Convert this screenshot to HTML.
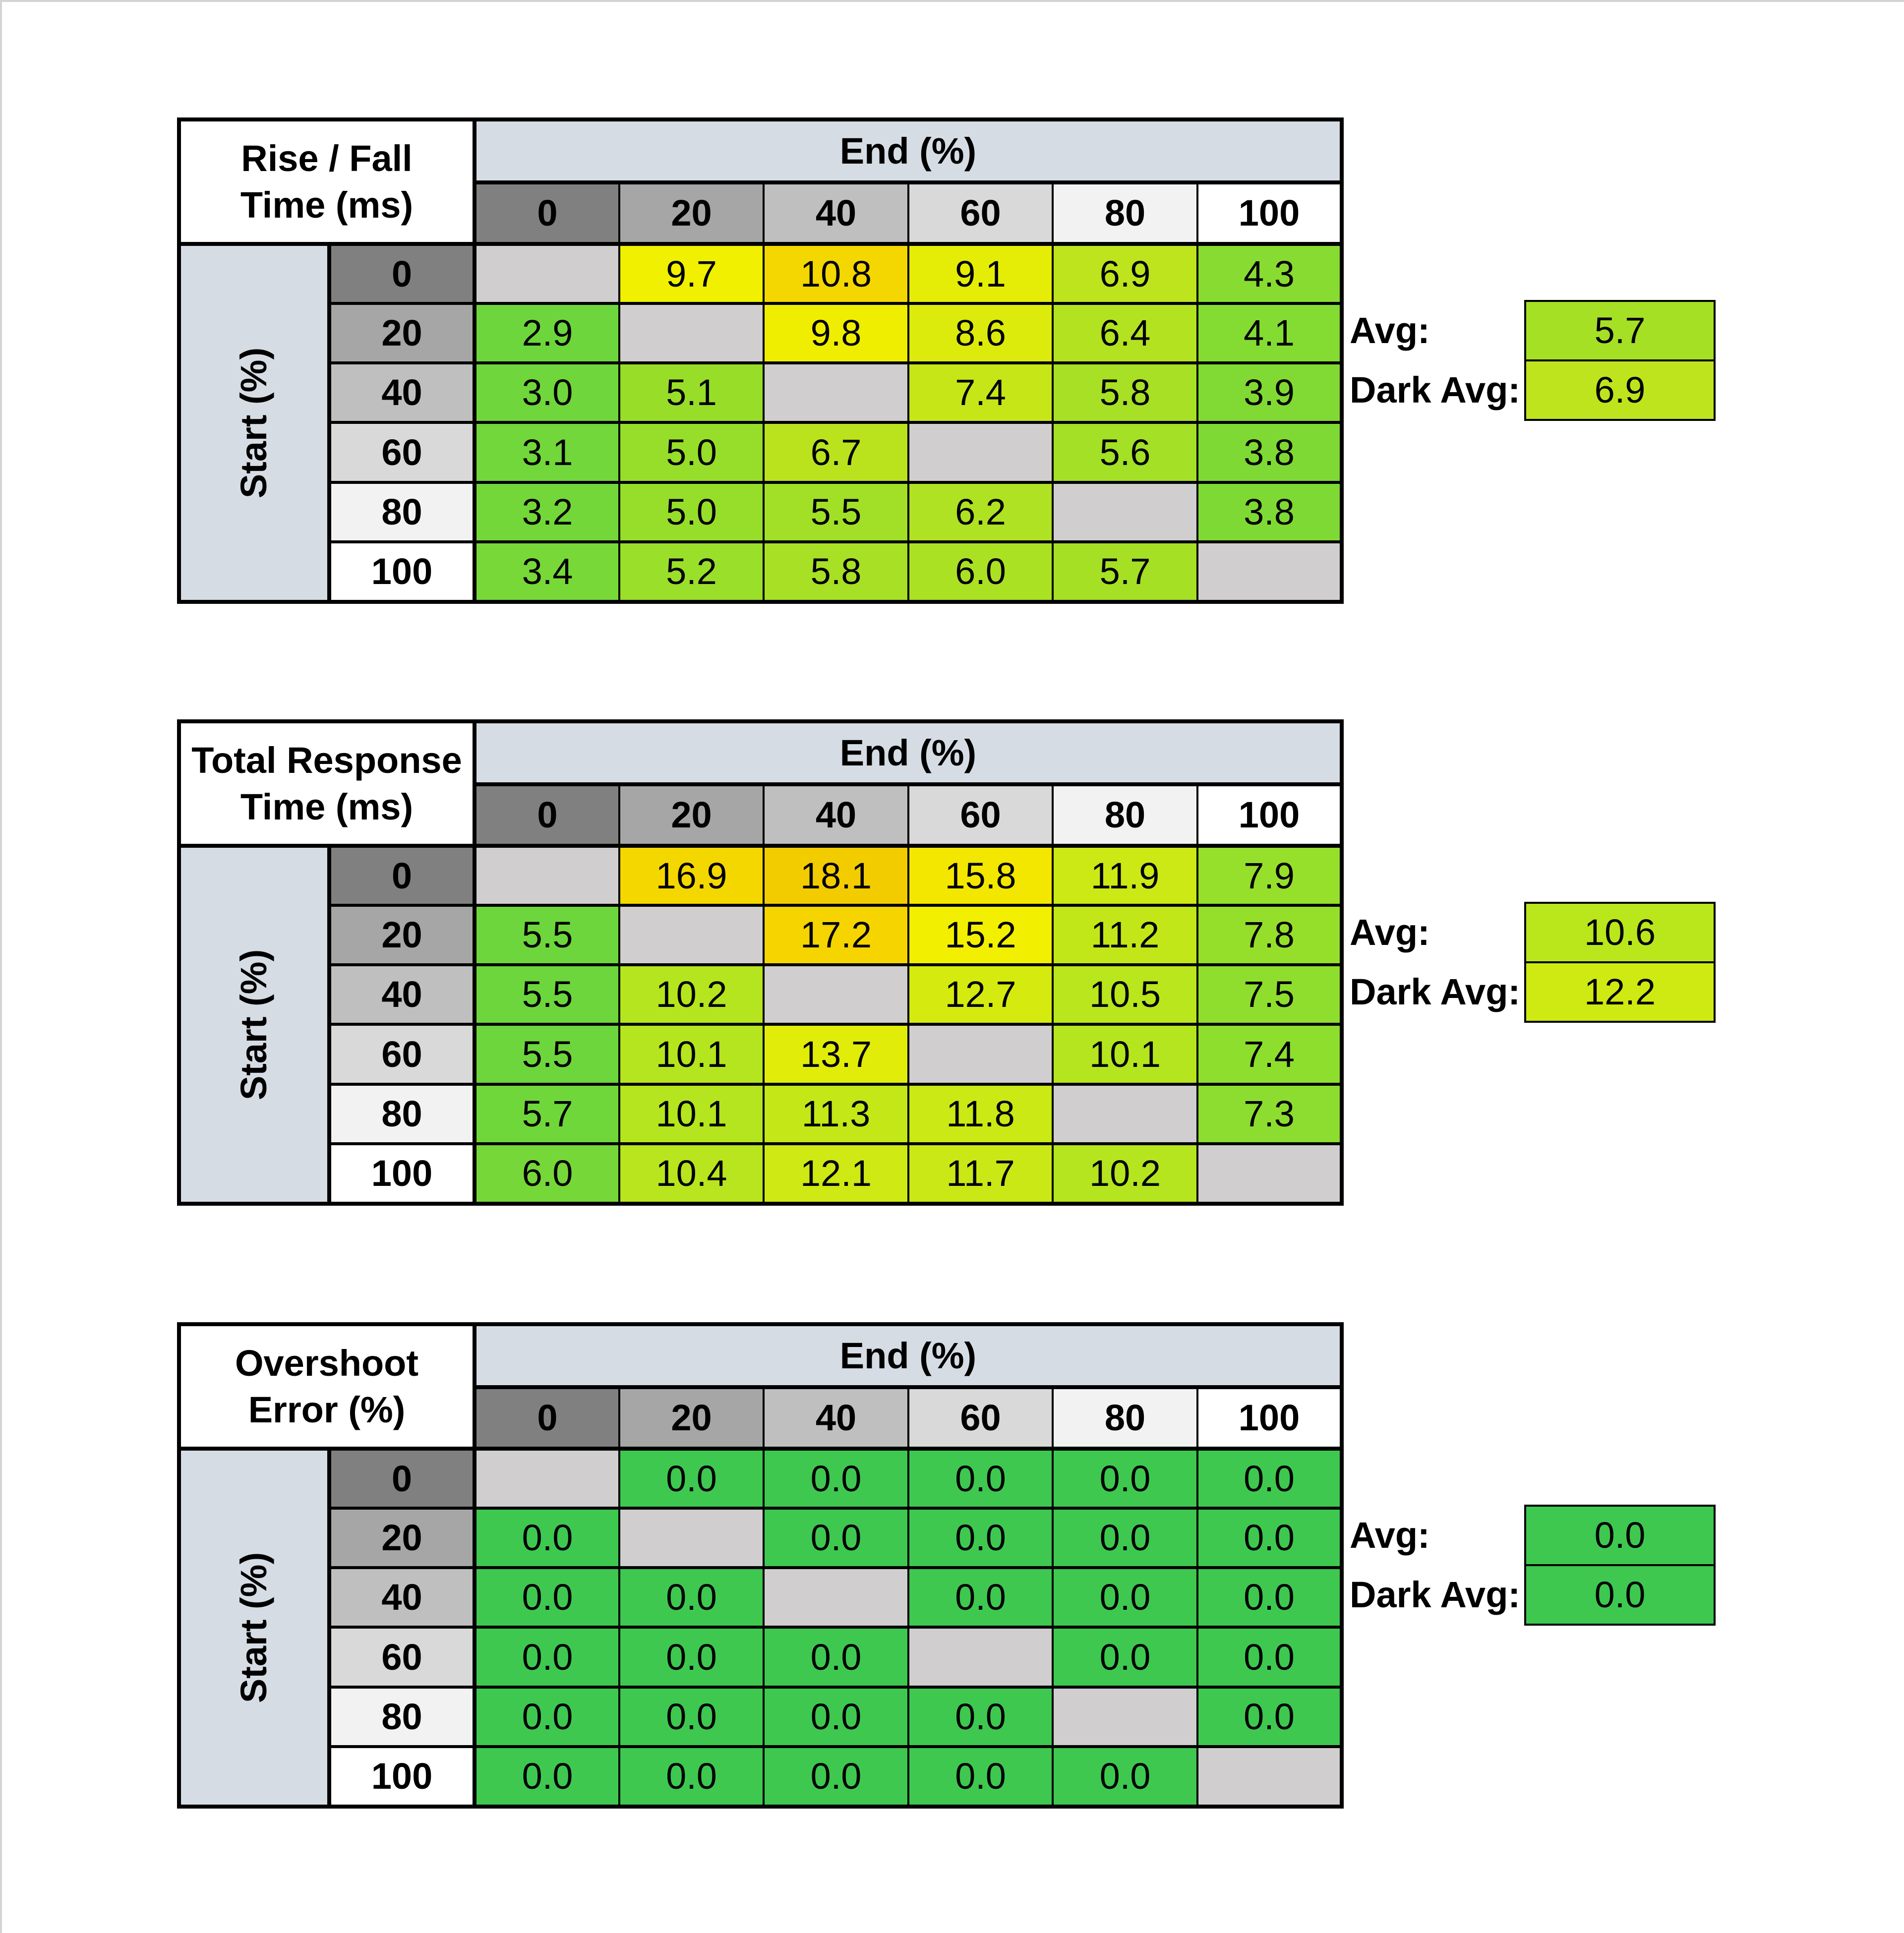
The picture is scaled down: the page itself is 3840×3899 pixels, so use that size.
<!DOCTYPE html>
<html><head><meta charset="utf-8">
<style>
html,body{margin:0;padding:0;}
body{width:3840px;height:3899px;background:#fff;position:relative;overflow:hidden;font-family:"Liberation Sans",Arial,sans-serif;color:#000;}
.c{position:absolute;display:flex;align-items:center;justify-content:center;font-size:74px;box-sizing:border-box;line-height:1;}
.b{font-weight:bold;}
.blk{position:absolute;background:#000;}
</style></head>
<body>
<div style="position:absolute;left:0;top:0;width:3840px;height:4px;background:#d4d4d4"></div>
<div style="position:absolute;left:0;top:0;width:4px;height:3899px;background:#d4d4d4"></div>
<script>
const levels = ["0","20","40","60","80","100"];
const titles = [["Rise / Fall","Time (ms)"],["Total Response","Time (ms)"],["Overshoot","Error (%)"]];
const riseFall = [
 [null,9.7,10.8,9.1,6.9,4.3],
 [2.9,null,9.8,8.6,6.4,4.1],
 [3.0,5.1,null,7.4,5.8,3.9],
 [3.1,5.0,6.7,null,5.6,3.8],
 [3.2,5.0,5.5,6.2,null,3.8],
 [3.4,5.2,5.8,6.0,5.7,null]];
const totalResp = [
 [null,16.9,18.1,15.8,11.9,7.9],
 [5.5,null,17.2,15.2,11.2,7.8],
 [5.5,10.2,null,12.7,10.5,7.5],
 [5.5,10.1,13.7,null,10.1,7.4],
 [5.7,10.1,11.3,11.8,null,7.3],
 [6.0,10.4,12.1,11.7,10.2,null]];
const overshoot = [
 [null,0,0,0,0,0],
 [0,null,0,0,0,0],
 [0,0,null,0,0,0],
 [0,0,0,null,0,0],
 [0,0,0,0,null,0],
 [0,0,0,0,0,null]];
const avgValues = [5.7,10.6,0.0];
const darkAvgValues = [6.9,12.2,0.0];

const scales = [
 [[2.9,[109,214,60]],[5.0,[150,222,42]],[7.0,[192,228,28]],[9.7,[240,240,0]],[11,[245,210,0]]],
 [[5.5,[109,214,60]],[8.0,[152,224,42]],[12.0,[205,233,20]],[15.2,[242,240,0]],[17,[245,214,0]],[18.5,[242,200,0]]],
 [[0,[62,200,80]],[1,[62,200,80]]]
];
function colorFor(t,v){
  const s=scales[t];
  if(v<=s[0][0]) return 'rgb('+s[0][1].join(',')+')';
  for(let i=1;i<s.length;i++){
    if(v<=s[i][0]){const a=s[i-1],b=s[i];const f=(v-a[0])/(b[0]-a[0]);
      return 'rgb('+a[1].map((x,k)=>Math.round(x+(b[1][k]-x)*f)).join(',')+')';}
  }
  return 'rgb('+s[s.length-1][1].join(',')+')';
}
const datasets=[riseFall,totalResp,overshoot];
const hdrBg=["#808080","#a6a6a6","#bfbfbf","#d9d9d9","#f2f2f2","#ffffff"];
const colX=[361,664,957,1249,1540,1832,2123,2415,2706];
const rowY=[241,368,492,612,732,852,973,1093,1214];
const offsets=[0,1214,2430];
const TH=8, TN=4;

function cell(x0,x1,y0,y1,bg,txt,bold,name){
  const d=document.createElement('div');
  d.className='c'+(bold?' b':'');
  d.style.left=x0+'px';d.style.top=y0+'px';
  d.style.width=(x1-x0)+'px';d.style.height=(y1-y0)+'px';
  d.style.background=bg;
  if(Array.isArray(txt)){d.style.flexDirection='column';d.innerHTML=txt.map(t=>'<div style="margin:10px 0">'+t+'</div>').join('');}
  else d.textContent=txt;
  
  
  document.body.appendChild(d);return d;
}
function lineThick(i){return (i===0||i===colX.length-1)?TH:TN;}
for(let t=0;t<3;t++){
  const oy=offsets[t];
  const Y=rowY.map(y=>y+oy);
  const bk=document.createElement('div');
  bk.className='blk';
  bk.style.left=(colX[0]-TH/2)+'px';bk.style.top=(Y[0]-TH/2)+'px';
  bk.style.width=(colX[8]-colX[0]+TH)+'px';bk.style.height=(Y[8]-Y[0]+TH)+'px';
  
  
  document.body.appendChild(bk);
  const vx=[TH,TH,TH,TN,TN,TN,TN,TN,TH];
  const hy=[TH,TH,TH,6,6,6,6,6,TH];
  const L=i=>colX[i]+vx[i]/2, R=i=>colX[i]-vx[i]/2;
  const T=i=>Y[i]+hy[i]/2, B=i=>Y[i]-hy[i]/2;
  cell(L(0),R(2),T(0),B(2),'#fff',titles[t],true,'table-title-'+(t+1));
  cell(L(2),R(8),T(0),B(1)-4+4,'#d6dce4','End (%)',true,'end-axis-title');
  const st=cell(L(0),R(1),T(2),B(8),'#d6dce4','',true,'start-axis-title');
  const sp=document.createElement('div');sp.textContent='Start (%)';
  sp.style.transform='rotate(-90deg)';sp.style.whiteSpace='nowrap';
  
  
  st.appendChild(sp);
  for(let j=0;j<6;j++){
    cell(L(j+2),R(j+3),T(1),B(2),hdrBg[j],levels[j],true,'end-header-'+levels[j]);
    cell(L(1),R(2),T(j+2),B(j+3),hdrBg[j],levels[j],true,'start-header-'+levels[j]);
  }
  const data=datasets[t];
  for(let r=0;r<6;r++)for(let c=0;c<6;c++){
    const v=data[r][c];
    cell(L(c+2),R(c+3),T(r+2),B(r+3),v===null?'#d0cece':colorFor(t,v),v===null?'':v.toFixed(1),false,'cell-'+levels[r]+'-'+levels[c]);
  }
  // avg box
  const ab=document.createElement('div');ab.className='blk';
  ab.style.left='3074px';ab.style.top=(605+oy)+'px';ab.style.width='386px';ab.style.height='244px';
  
  
  document.body.appendChild(ab);
  cell(3078,3456,609+oy,725+oy,colorFor(t,avgValues[t]),avgValues[t].toFixed(1),false,'avg-value');
  cell(3078,3456,729+oy,845+oy,colorFor(t,darkAvgValues[t]),darkAvgValues[t].toFixed(1),false,'dark-avg-value');
  const a1=cell(2722,3074,609+oy,725+oy,'transparent','Avg:',true,'avg-label');a1.style.justifyContent='flex-start';
  const a2=cell(2722,3074,729+oy,845+oy,'transparent','Dark Avg:',true,'dark-avg-label');a2.style.justifyContent='flex-start';
}
</script>
</body></html>
